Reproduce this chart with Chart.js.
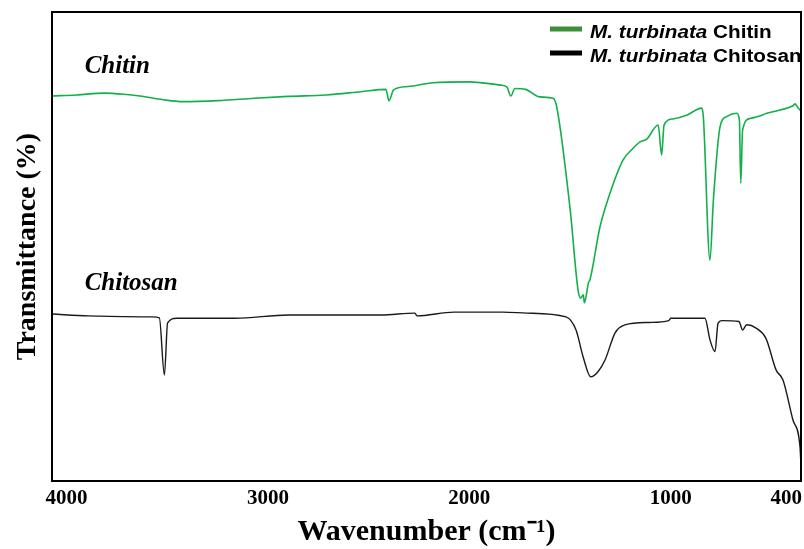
<!DOCTYPE html>
<html><head><meta charset="utf-8">
<script src="https://cdn.jsdelivr.net/npm/chart.js@4.4.1/dist/chart.umd.min.js"></script>
<style>html,body{margin:0;padding:0;background:#fff}#wrap{width:804px;height:549px}</style>
</head><body><div id="wrap"><canvas id="c" width="804" height="549"></canvas></div>
<script>
// Chitin spectrum (wavenumber cm-1, transmittance arbitrary %)
const chitinWavenumber = [4072,3950,3814,3700,3635,3520,3422,3250,3069,2900,2712,2538,2414,2399,2376,2304,2180,2003,1844,1813,1794,1773,1720,1649,1584,1566,1499,1460,1447,1434,1429,1417,1409,1401,1351,1301,1237,1190,1152,1119,1062,1045,1033,989,921,846,838,805,788,755,722,672,659,652,643,606,567,523,457,393,383,368,353];
const chitinTransmittance = [82.1,82.3,82.7,82.4,82.1,81.3,80.9,81.1,81.6,82.0,82.3,83.0,83.5,81.1,83.4,84.1,84.9,85.1,84.4,84.0,82.1,83.7,83.5,81.9,81.6,79.8,57.8,40.7,39.0,39.7,38.0,40.1,42.2,42.9,54.2,61.4,68.4,70.8,72.3,72.9,75.9,69.5,75.9,77.2,78.0,79.5,77.7,47.1,59.9,75.5,77.7,78.4,77.0,63.5,74.8,77.3,77.7,78.4,79.1,80.0,80.4,79.6,78.9];
// Chitosan spectrum
const chitosanWavenumber = [4072,3890,3575,3539,3514,3498,3454,3163,2898,2438,2270,2260,2076,1833,1714,1520,1470,1435,1397,1361,1326,1276,1227,1108,1010,999,830,805,780,765,745,661,643,623,576,527,477,442,393,358,353];
const chitosanTransmittance = [35.6,35.2,35.0,34.8,22.6,33.7,34.7,34.7,35.4,35.4,35.8,35.2,36.0,36.0,35.8,35.0,32.2,26.5,22.2,23.3,25.8,31.6,33.3,33.8,34.2,34.7,34.7,30.1,27.6,33.6,34.2,34.0,32.2,33.3,32.6,30.4,23.7,21.5,13.0,7.3,3.2];
const xTickValues = [4000,3000,2000,1000,400];
const seriesNames = ['Chitin','Chitosan'];
const legendSpecies = 'M. turbinata';
const xMin = 353, xMax = 4072;

const toPts = (xs, ys) => xs.map((v, i) => ({x: v, y: ys[i]}));
const serif = '"Liberation Serif", "Times New Roman", serif';
const sans = '"Liberation Sans", Arial, sans-serif';

const decor = {
  id: 'decor',
  afterDatasetsDraw(chart) {
    const {ctx, chartArea: a, scales: {x, y}} = chart;
    ctx.save();
    // frame
    ctx.strokeStyle = '#000'; ctx.lineWidth = 2;
    ctx.strokeRect(a.left, a.top, a.right - a.left, a.bottom - a.top);
    // spectrum labels
    ctx.fillStyle = '#000';
    ctx.textBaseline = 'alphabetic';
    ctx.textAlign = 'left';
    ctx.font = 'italic bold 25px ' + serif;
    ctx.fillText(seriesNames[0], x.getPixelForValue(3910), y.getPixelForValue(87));
    ctx.fillText(seriesNames[1], x.getPixelForValue(3910), y.getPixelForValue(40.7));
    // legend
    const items = [
      {color: '#3e8e3a', name: seriesNames[0]},
      {color: '#000000', name: seriesNames[1]}
    ];
    items.forEach((it, i) => {
      const ly = a.top + 17 + i * 24;
      ctx.strokeStyle = it.color; ctx.lineWidth = 5; ctx.lineCap = 'butt';
      ctx.beginPath(); ctx.moveTo(a.right - 251, ly); ctx.lineTo(a.right - 219, ly); ctx.stroke();
      ctx.save();
      ctx.translate(a.right - 211, ly + 8.5);
      ctx.scale(1.15, 1);
      ctx.fillStyle = '#000';
      ctx.font = 'italic bold 18px ' + sans;
      const sp = legendSpecies + ' ';
      ctx.fillText(sp, 0, 0);
      const w = ctx.measureText(sp).width;
      ctx.font = 'bold 18px ' + sans;
      ctx.fillText(it.name, w, 0);
      ctx.restore();
    });
    ctx.restore();
  }
};

new Chart(document.getElementById('c'), {
  type: 'line',
  data: {
    datasets: [
      {label: 'M. turbinata Chitin', data: toPts(chitinWavenumber, chitinTransmittance), borderColor: '#12b04a', borderWidth: 1.6, pointRadius: 0, cubicInterpolationMode: 'monotone', fill: false},
      {label: 'M. turbinata Chitosan', data: toPts(chitosanWavenumber, chitosanTransmittance), borderColor: '#1a1a1a', borderWidth: 1.4, pointRadius: 0, cubicInterpolationMode: 'monotone', fill: false}
    ]
  },
  options: {
    responsive: false,
    devicePixelRatio: 1,
    animation: false,
    layout: {padding: {top: 12, right: 3, left: 0, bottom: 0}},
    plugins: {legend: {display: false}, tooltip: {enabled: false}},
    scales: {
      x: {
        type: 'linear', reverse: true, min: xMin, max: xMax,
        grid: {display: false, drawTicks: false},
        border: {display: false},
        afterBuildTicks: s => { s.ticks = xTickValues.map(v => ({value: v})); },
        afterFit: s => { s.height = 68; s.paddingLeft = 0; s.paddingRight = 0; },
        ticks: {autoSkip: false, maxRotation: 0, minRotation: 0, padding: 5, color: '#000',
          font: {family: serif, size: 21, weight: 'bold'},
          callback: v => v === 400 ? '400\u2002' : String(v)},
        title: {display: true, text: 'Wavenumber (cm⁻¹)', color: '#000',
          font: {family: serif, size: 30, weight: 'bold', lineHeight: 1}, padding: {top: 0, bottom: 2}}
      },
      y: {
        type: 'linear', min: 0, max: 100,
        grid: {display: false, drawTicks: false},
        border: {display: false},
        ticks: {display: false},
        afterFit: s => { s.width = 52; s.paddingTop = 0; s.paddingBottom = 0; },
        title: {display: true, text: 'Transmittance (%)', color: '#000',
          font: {family: serif, size: 28, weight: 'bold', lineHeight: 1}, padding: {top: 14, bottom: 0}}
      }
    }
  },
  plugins: [decor]
});
</script>
</body></html>
